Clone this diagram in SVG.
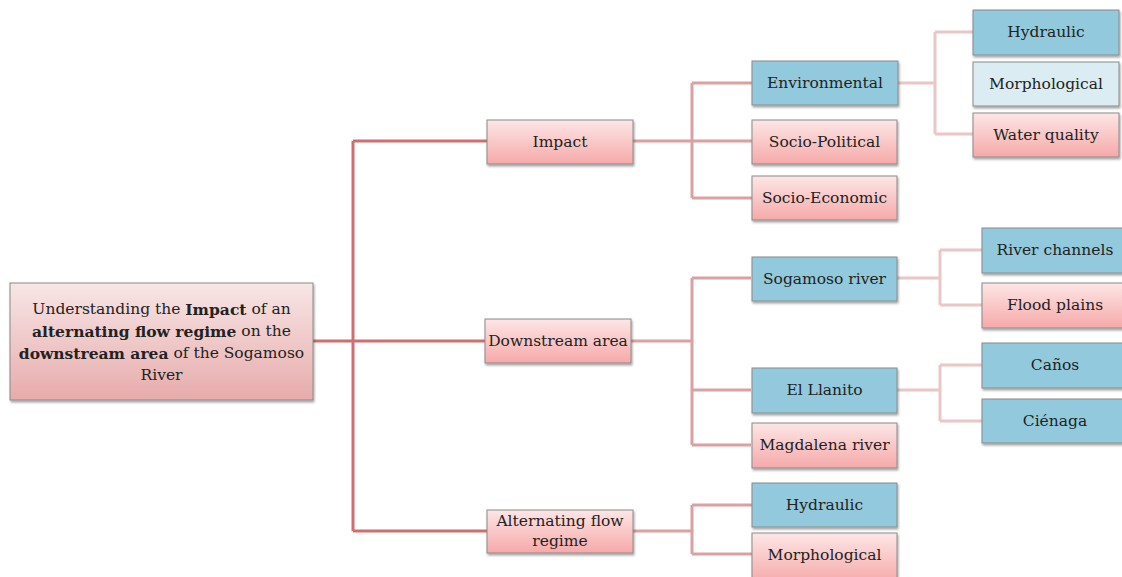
<svg xmlns="http://www.w3.org/2000/svg" width="1122" height="577" viewBox="0 0 1122 577">
<defs>
<linearGradient id="gPink" x1="0" y1="0" x2="0" y2="1"><stop offset="0" stop-color="#fde6e6"/><stop offset="1" stop-color="#f6a9a9"/></linearGradient>
<linearGradient id="gRoot" x1="0" y1="0" x2="0" y2="1"><stop offset="0" stop-color="#f8e6e6"/><stop offset="1" stop-color="#e7abab"/></linearGradient>
<filter id="sh" x="-10%" y="-10%" width="130%" height="140%"><feDropShadow dx="1" dy="2" stdDeviation="1.2" flood-color="#000" flood-opacity="0.35"/></filter>
</defs>
<style>
.box{stroke:#8a8a8a;stroke-width:1;filter:url(#sh)}
.pink{fill:url(#gPink)}
.root{fill:url(#gRoot)}
.blue{fill:#92c9dc}
.lblue{fill:#dbedf3}
.t{font-family:"DejaVu Serif","Liberation Serif",serif;font-size:15.5px;fill:#222;text-anchor:middle;dominant-baseline:central}
.c1{stroke:#cf6e6e;stroke-width:3;fill:none}
.c2{stroke:#dba0a0;stroke-width:3;fill:none}
.c3{stroke:#eac6c6;stroke-width:3;fill:none}
</style>
<rect width="1122" height="577" fill="#fff"/>
<g id="connectors">
<path class="c1" d="M313 341 H485 M353 141 V531 M353 141 H487 M353 531 H487"/>
<path class="c2" d="M633 141 H752 M692 83 V198 M692 83 H752 M692 198 H752"/>
<path class="c2" d="M631 341 H692 M692 278 V445 M692 278 H751 M692 390 H751 M692 445 H751"/>
<path class="c2" d="M633 531 H692 M692 505 V554 M692 505 H752 M692 554 H752"/>
<path class="c3" d="M898 83 H935 M935 32 V134 M935 32 H973 M935 134 H973"/>
<path class="c3" d="M897 278 H940 M940 250 V305 M940 250 H982 M940 305 H982"/>
<path class="c3" d="M897 390 H940 M940 365 V421 M940 365 H982 M940 421 H982"/>
</g>
<g class="t">
<g id="root"><rect class="box root" x="10" y="283" width="303" height="117"/>
<text x="161.5" y="309">Understanding the <tspan font-weight="bold">Impact</tspan> of an</text>
<text x="161.5" y="331"><tspan font-weight="bold">alternating flow regime</tspan> on the</text>
<text x="161.5" y="353"><tspan font-weight="bold">downstream area</tspan> of the Sogamoso</text>
<text x="161.5" y="375">River</text></g>
<g id="impact"><rect class="box pink" x="487" y="120" width="146" height="44"/><text x="560" y="142">Impact</text></g>
<g id="downstream"><rect class="box pink" x="485" y="319" width="146" height="44"/><text x="558" y="341">Downstream area</text></g>
<g id="altflow"><rect class="box pink" x="487" y="510" width="146" height="43"/><text x="560" y="521">Alternating flow</text><text x="560" y="541">regime</text></g>
<g id="environmental"><rect class="box blue" x="752" y="61" width="146" height="44"/><text x="825" y="83">Environmental</text></g>
<g id="sociopolitical"><rect class="box pink" x="752" y="120" width="145" height="44"/><text x="824.5" y="142">Socio-Political</text></g>
<g id="socioeconomic"><rect class="box pink" x="752" y="176" width="145" height="44"/><text x="824.5" y="198">Socio-Economic</text></g>
<g id="env-hydraulic"><rect class="box blue" x="973" y="10" width="146" height="45"/><text x="1046" y="32">Hydraulic</text></g>
<g id="env-morph"><rect class="box lblue" x="973" y="62" width="146" height="44"/><text x="1046" y="84">Morphological</text></g>
<g id="env-water"><rect class="box pink" x="973" y="113" width="146" height="44"/><text x="1046" y="135">Water quality</text></g>
<g id="sogamoso"><rect class="box blue" x="752" y="257" width="145" height="44"/><text x="824.5" y="279">Sogamoso river</text></g>
<g id="llanito"><rect class="box blue" x="752" y="368" width="145" height="45"/><text x="824.5" y="390">El Llanito</text></g>
<g id="magdalena"><rect class="box pink" x="752" y="423" width="145" height="45"/><text x="824.5" y="445">Magdalena river</text></g>
<g id="channels"><rect class="box blue" x="982" y="228" width="146" height="45"/><text x="1055" y="250">River channels</text></g>
<g id="floodplains"><rect class="box pink" x="982" y="283" width="146" height="45"/><text x="1055" y="305">Flood plains</text></g>
<g id="canos"><rect class="box blue" x="982" y="343" width="146" height="45"/><text x="1055" y="365">Caños</text></g>
<g id="cienaga"><rect class="box blue" x="982" y="399" width="146" height="44"/><text x="1055" y="421">Ciénaga</text></g>
<g id="alt-hydraulic"><rect class="box blue" x="752" y="483" width="145" height="44"/><text x="824.5" y="505">Hydraulic</text></g>
<g id="alt-morph"><rect class="box pink" x="752" y="533" width="145" height="50"/><text x="824.5" y="555">Morphological</text></g>
</g>
</svg>
